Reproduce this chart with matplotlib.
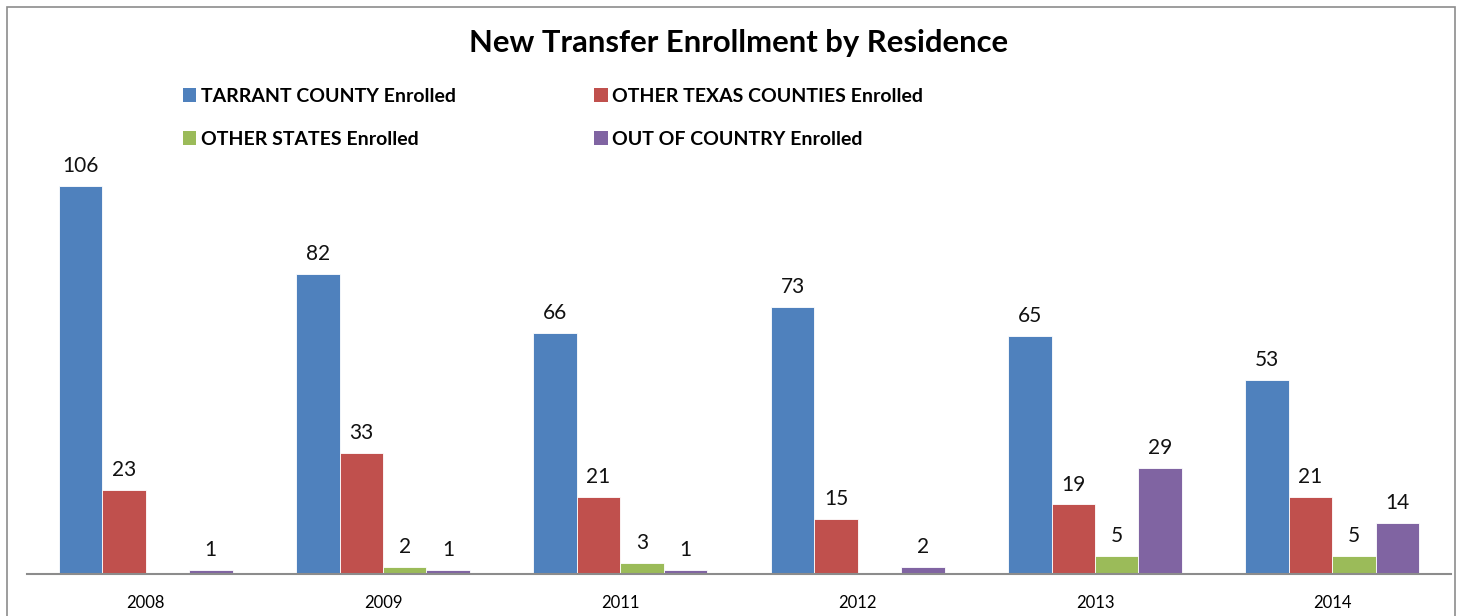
import matplotlib
matplotlib.use("Agg")
import matplotlib.pyplot as plt
from matplotlib.patches import Rectangle, Patch
import numpy as np

years = ["2008", "2009", "2011", "2012", "2013", "2014"]
series_names = ["TARRANT COUNTY Enrolled", "OTHER TEXAS COUNTIES Enrolled",
                "OTHER STATES Enrolled", "OUT OF COUNTRY Enrolled"]
tarrant = [106, 82, 66, 73, 65, 53]
other_texas = [23, 33, 21, 15, 19, 21]
other_states = [None, 2, 3, None, 5, 5]
out_of_country = [1, 1, 1, 2, 29, 14]
colors = ["#4F81BD", "#C0504D", "#9BBB59", "#8064A2"]

plt.rcParams['font.family'] = ['Lato', 'DejaVu Sans']

fig = plt.figure(figsize=(14.58, 6.16), dpi=100)
W, H = 1458, 616
ax = fig.add_axes([27 / W, (H - 574) / H, (1451 - 27) / W, (574 - 135) / H])

x = np.arange(len(years))
bw = 0.183
all_series = [tarrant, other_texas, other_states, out_of_country]
handles = []
for i, (vals, c, name) in enumerate(zip(all_series, colors, series_names)):
    pos = x + (i - 1.5) * bw
    v = np.array([np.nan if a is None else a for a in vals], dtype=float)
    ax.bar(pos, np.nan_to_num(v), width=bw, color=c, edgecolor='white', linewidth=0.6)
    for p, val in zip(pos, vals):
        if val is None:
            continue
        ax.text(p, val + 2.7, str(val), ha='center', va='bottom', fontsize=15, color='#111111')
    handles.append(Patch(facecolor=c, label=name))

ax.set_xlim(-0.5, len(years) - 0.5)
ax.set_ylim(0, 120)
ax.set_xticks(x)
ax.set_xticklabels(years, fontsize=12)
ax.tick_params(axis='x', length=0, pad=15)
ax.set_yticks([])
for s in ['top', 'left', 'right']:
    ax.spines[s].set_visible(False)
ax.spines['bottom'].set_color('#8C8C8C')
ax.spines['bottom'].set_linewidth(1.5)

fig.text(739 / W, 1 - 43 / H, "New Transfer Enrollment by Residence", ha='center', va='center',
         fontsize=22.3, fontweight='bold')

order = [handles[0], handles[2], handles[1], handles[3]]
fig.legend(handles=order, labels=[h.get_label() for h in order], ncol=2,
           loc='upper left', bbox_to_anchor=(165 / W, 1 - 70 / H), frameon=False,
           prop={'weight': 'bold', 'size': 14}, handlelength=0.7, handleheight=0.7,
           handletextpad=0.25, columnspacing=7.1, labelspacing=1.36)

fig.patches.append(Rectangle((7 / W, -0.05), (1455 - 7) / W, 1 - 7 / H + 0.05,
                             transform=fig.transFigure, fill=False, edgecolor='#8C8C8C',
                             linewidth=1.2))

fig.savefig("out.png", dpi=100)
